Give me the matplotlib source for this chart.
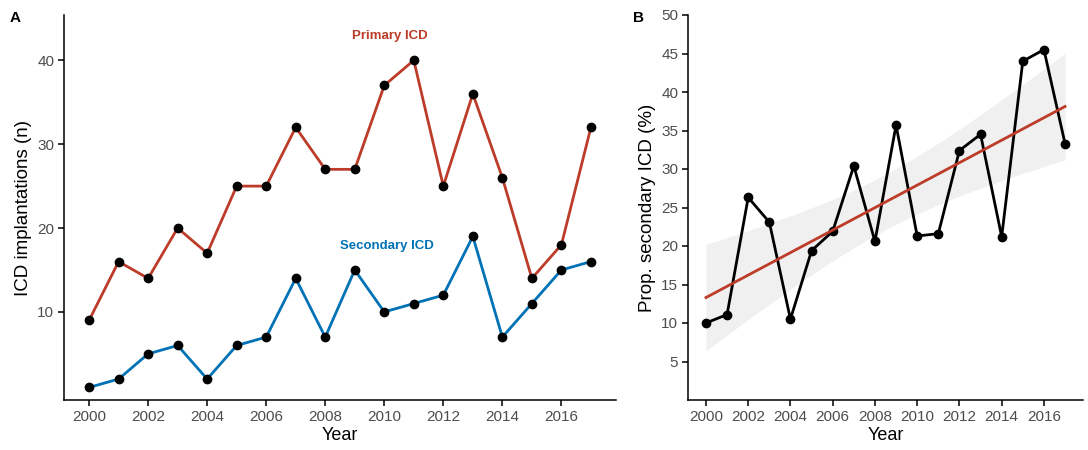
import numpy as np
import matplotlib
matplotlib.use('Agg')
import matplotlib.pyplot as plt

plt.rcParams['font.family'] = ['Liberation Sans', 'DejaVu Sans']

# data
years = np.arange(2000, 2018)
primary = [9, 16, 14, 20, 17, 25, 25, 32, 27, 27, 37, 40, 25, 36, 26, 14, 18, 32]
secondary = [1, 2, 5, 6, 2, 6, 7, 14, 7, 15, 10, 11, 12, 19, 7, 11, 15, 16]
prop_secondary = [10.0, 11.1, 26.3, 23.1, 10.5, 19.4, 21.9, 30.4, 20.6, 35.7,
                  21.3, 21.6, 32.4, 34.5, 21.2, 44.0, 45.5, 33.3]
year_ticks = list(range(2000, 2017, 2))

RED = '#BC3C29'
BLUE = '#0072B5'
TICK_GREY = '#4D4D4D'

fig = plt.figure(figsize=(10.88, 4.5), dpi=100)
W, H = 1088, 450
axA = fig.add_axes([64 / W, 1 - 400 / H, (616 - 64) / W, (400 - 15) / H])
axB = fig.add_axes([688 / W, 1 - 400 / H, (1083 - 688) / W, (400 - 15) / H])


def style(ax):
    for s in ['top', 'right']:
        ax.spines[s].set_visible(False)
    for s in ['left', 'bottom']:
        ax.spines[s].set_linewidth(1.1)
        ax.spines[s].set_color('black')
    ax.tick_params(axis='both', length=4, width=1.1, color='black',
                   labelsize=11, labelcolor=TICK_GREY, pad=3)
    ax.set_xticks(year_ticks)
    ax.set_xlim(2000 - 0.85, 2017 + 0.85)
    ax.set_xlabel('Year', fontsize=13, labelpad=2)


# ---- Panel A ----
axA.plot(years, primary, color=RED, lw=2.0, zorder=2)
axA.plot(years, secondary, color=BLUE, lw=2.0, zorder=2)
axA.scatter(years, primary, s=36, color='black', zorder=3)
axA.scatter(years, secondary, s=36, color='black', zorder=3)
axA.text(2010.2, 42.9, 'Primary ICD', color=RED, fontsize=9.5,
         fontweight='bold', ha='center', va='center')
axA.text(2010.1, 17.9, 'Secondary ICD', color=BLUE, fontsize=9.5,
         fontweight='bold', ha='center', va='center')
axA.set_ylim(-0.5, 45.4)
axA.set_yticks([10, 20, 30, 40])
axA.set_ylabel('ICD implantations (n)', fontsize=13.5, labelpad=4)
style(axA)

# ---- Panel B ----
x = years.astype(float)
y = np.array(prop_secondary)
coef = np.polyfit(x, y, 1)
fit = np.polyval(coef, x)
n = len(x)
resid_se = np.sqrt(np.sum((y - fit) ** 2) / (n - 2))
se_fit = resid_se * np.sqrt(1 / n + (x - x.mean()) ** 2 / np.sum((x - x.mean()) ** 2))
t_crit = 2.12  # t(0.975, df=16)
axB.fill_between(x, fit - t_crit * se_fit, fit + t_crit * se_fit,
                 color='#EBEBEB', alpha=0.75, lw=0, zorder=1)
axB.plot(years, prop_secondary, color='black', lw=2.0, zorder=2)
axB.scatter(years, prop_secondary, s=36, color='black', zorder=3)
axB.plot(x, fit, color=RED, lw=2.0, zorder=4)
axB.set_ylim(0, 50)
axB.set_yticks(range(5, 51, 5))
axB.set_ylabel('Prop. secondary ICD (%)', fontsize=13.5, labelpad=4)
style(axB)

fig.text(15 / W, 1 - 18 / H, 'A', fontsize=11, fontweight='bold', va='center', ha='center')
fig.text(638 / W, 1 - 18 / H, 'B', fontsize=11, fontweight='bold', va='center', ha='center')

fig.savefig('out.png', dpi=100)
